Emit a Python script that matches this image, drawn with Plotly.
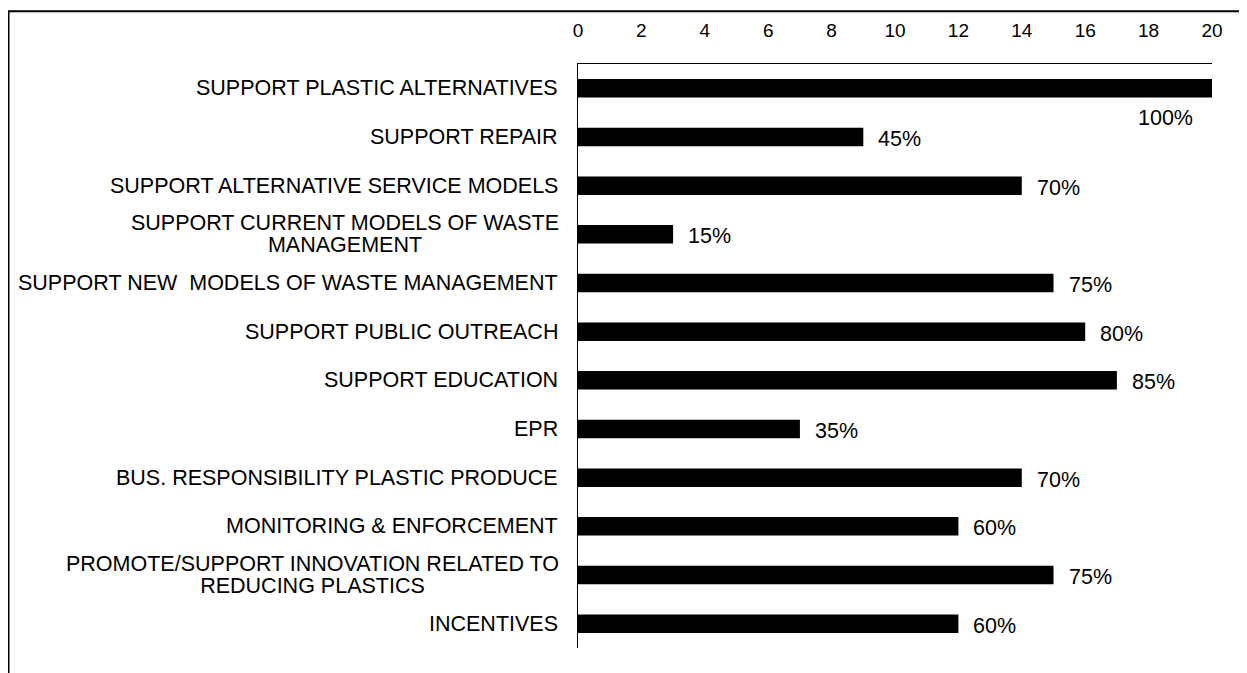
import plotly.graph_objects as go

categories = [
    "SUPPORT PLASTIC ALTERNATIVES",
    "SUPPORT REPAIR",
    "SUPPORT ALTERNATIVE SERVICE MODELS",
    "SUPPORT CURRENT MODELS OF WASTE<br>MANAGEMENT",
    "SUPPORT NEW  MODELS OF WASTE MANAGEMENT",
    "SUPPORT PUBLIC OUTREACH",
    "SUPPORT EDUCATION",
    "EPR",
    "BUS. RESPONSIBILITY PLASTIC PRODUCE",
    "MONITORING & ENFORCEMENT",
    "PROMOTE/SUPPORT INNOVATION RELATED TO<br>REDUCING PLASTICS",
    "INCENTIVES",
]
counts = [20, 9, 14, 3, 15, 16, 17, 7, 14, 12, 15, 12]
percent_labels = ["100%", "45%", "70%", "15%", "75%", "80%", "85%", "35%", "70%", "60%", "75%", "60%"]

FONT = "Liberation Sans, Arial, sans-serif"
# box width (px) for the two-line labels, so the second line centres under the first
wrap_box = {3: 428, 10: 493}
ids = list(range(len(categories)))

fig = go.Figure(
    go.Bar(
        x=counts,
        y=ids,
        orientation="h",
        marker={"color": "black", "line": {"width": 0}},
        width=0.38,
        hoverinfo="skip",
    )
)

cat_font = {"family": FONT, "size": 21.5, "color": "black"}
pct_font = {"family": FONT, "size": 21.5, "color": "black"}

annotations = []
for i, (cat, v, lab) in enumerate(zip(categories, counts, percent_labels)):
    lines = cat.split("<br>")
    if len(lines) == 1:
        annotations.append(
            dict(x=0, xref="paper", y=i, yref="y", text=cat, showarrow=False,
                 xanchor="right", xshift=-18, font=cat_font)
        )
    else:
        for line, dy in zip(lines, (11, -11)):
            annotations.append(
                dict(x=0, xref="paper", y=i, yref="y", text=line, showarrow=False,
                     xanchor="right", align="center", width=wrap_box[i],
                     xshift=-17, yshift=dy, font=cat_font)
            )
    if v >= 19:
        annotations.append(
            dict(x=v, xref="x", y=i, yref="y", text=lab, showarrow=False,
                 xanchor="right", xshift=-17, yshift=-30, font=pct_font)
        )
    else:
        annotations.append(
            dict(x=v, xref="x", y=i, yref="y", text=lab, showarrow=False,
                 xanchor="left", xshift=13, yshift=-2, font=pct_font)
        )

fig.update_layout(
    width=1239,
    height=665,
    margin={"l": 570, "r": 35, "t": 54, "b": 25},
    paper_bgcolor="white",
    plot_bgcolor="white",
    showlegend=False,
    annotations=annotations,
    xaxis={
        "side": "top",
        "range": [0, 20],
        "tickvals": list(range(0, 21, 2)),
        "showgrid": False,
        "zeroline": False,
        "showline": True,
        "linecolor": "black",
        "linewidth": 1,
        "ticks": "",
        "ticklabelstandoff": 18,
        "tickfont": {"family": FONT, "size": 19, "color": "black"},
        "fixedrange": True,
    },
    yaxis={
        "range": [len(categories) - 0.5, -0.5],
        "showticklabels": False,
        "showgrid": False,
        "zeroline": False,
        "showline": True,
        "linecolor": "black",
        "linewidth": 1,
        "ticks": "",
        "fixedrange": True,
    },
    shapes=[
        dict(type="rect", xref="paper", yref="paper",
             x0=-569.5 / 634, x1=2, y0=-1, y1=1 + 53 / 586,
             line={"color": "black", "width": 2}, fillcolor="rgba(0,0,0,0)"),
    ],
)

fig.write_html("out.html")
